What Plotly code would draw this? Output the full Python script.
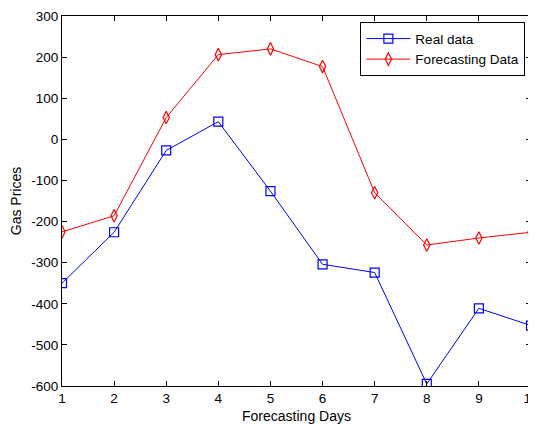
import plotly.graph_objects as go

days = [1, 2, 3, 4, 5, 6, 7, 8, 9, 10]
real_data = [-350, -226, -27, 43, -126, -304, -324, -595, -411, -453]
forecast_data = [-225, -186, 53, 206, 220, 177, -130, -257, -240, -226]

x_ticks = [1, 2, 3, 4, 5, 6, 7, 8, 9, 10]
y_ticks = [-600, -500, -400, -300, -200, -100, 0, 100, 200, 300]

FONT = "Liberation Sans, Arial, sans-serif"

fig = go.Figure()
fig.add_trace(go.Scatter(
    x=days, y=real_data, mode="lines+markers", name="Real data",
    line=dict(color="#0000ff", width=1),
    marker=dict(symbol="square-open", size=9, color="#0000ff", line=dict(width=1.2)),
))
fig.add_trace(go.Scatter(
    x=days, y=forecast_data, mode="lines+markers", name="Forecasting Data",
    line=dict(color="#ff0000", width=1),
    marker=dict(symbol="diamond-tall-open", size=9, color="#ff0000", line=dict(width=1.2)),
))

axis_common = dict(
    showline=True, linecolor="black", linewidth=1, mirror="ticks",
    ticks="inside", ticklen=5, tickcolor="black", tickwidth=1,
    showgrid=False, zeroline=False,
    tickfont=dict(family=FONT, size=13.5, color="black"),
    ticklabeloverflow="allow",
    automargin=False,
)

fig.update_xaxes(
    range=[1, 10], tickvals=x_ticks, ticktext=[str(v) for v in x_ticks],
    title=dict(text="Forecasting Days", font=dict(family=FONT, size=14, color="black"), standoff=5),
    **axis_common,
)
fig.update_yaxes(
    range=[-600, 300], tickvals=y_ticks, ticktext=[str(v) for v in y_ticks],
    title=dict(text="Gas Prices", font=dict(family=FONT, size=14, color="black"), standoff=7),
    **axis_common,
)

fig.update_layout(
    width=528, height=417,
    margin=dict(l=54, r=5, t=8, b=39),
    paper_bgcolor="white", plot_bgcolor="white",
    font=dict(family=FONT, size=14, color="black"),
    legend=dict(
        x=0.988, y=0.983, xanchor="right", yanchor="top",
        bgcolor="white", bordercolor="black", borderwidth=1,
        font=dict(family=FONT, size=13.5, color="black"),
        tracegroupgap=0, itemwidth=44,
    ),
    showlegend=True,
)

fig.write_html("out.html")
